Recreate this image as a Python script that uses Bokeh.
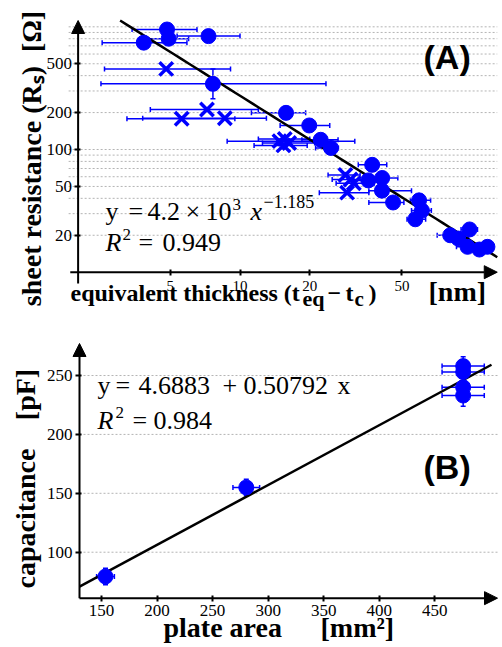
import numpy as np
from bokeh.plotting import figure
from bokeh.layouts import column
from bokeh.models import (ColumnDataSource, Whisker, TeeHead, Arrow, NormalHead, Label,
                          FixedTicker, Range1d)
from bokeh.embed import file_html
from bokeh.resources import INLINE

# ---------------- data: panel A (sheet resistance vs equivalent thickness) -------------
circ_x = [4.84, 4.92, 3.84, 7.31, 7.64, 15.8, 19.9, 22.3, 24.7, 37.2, 41.1, 35.8, 41.0, 45.8,
          59.3, 61.0, 57.1, 80.8, 87.5, 98.0, 96.0, 108.0, 117.0]
circ_y = [951, 800, 743, 840, 343, 199, 157, 120, 103, 75, 58.6, 56, 46.2, 37,
          38.5, 31.8, 27, 20, 18.8, 22.3, 16.1, 15.3, 16.1]
circ_xlo = [3.42, 3.8, 2.54, 5.35, 2.51, 11.2, 14.9, 18.5, 21.2, 32.4, 36, 31, 36, 36,
            54.4, 55, 52.6, 71, 78, 90, 86, 98, 106]
circ_xhi = [6.52, 6.0, 5.9, 10.0, 23.5, 19.2, 24.4, 26.5, 26.6, 43, 48, 40, 55, 51,
            66.5, 67, 63.3, 87, 97, 106, 104, 118, 124]
vbar_x = [7.64]
vbar_lo = [259]
vbar_hi = [454]

cross_x = [4.8, 7.2, 5.6, 8.6, 14.8, 15.6, 16.3, 15.4, 28.5, 30.0, 31.0, 29.0]
cross_y = [454, 212, 178, 180, 117, 122, 113, 108, 62, 57, 53, 44.5]
cross_xlo = [2.6, 4.1, 3.25, 3.8, 8.8, 12.0, 12.5, 11.5, 24, 25, 26, 22]
cross_xhi = [9.1, 12.0, 9.5, 13.0, 31.3, 20, 21, 19.5, 33, 36, 38, 36]

fitA_a, fitA_b = 4.2e3, -1.185
A_xticks = [5, 10, 20, 50]
A_yticks = [20, 50, 100, 200, 500]
A_grid = [20, 30, 40, 50, 60, 70, 80, 90, 100, 200, 300, 400, 500, 600, 700, 800, 900, 1000]

# ---------------- data: panel B (capacitance vs plate area) ----------------
area = [153.6, 280.3, 475.5, 475.5, 475.5, 475.5]
cap = [79.4, 155.0, 258.0, 253.0, 240.0, 233.0]
area_err = [8, 12, 19, 19, 19, 19]
cap_err = [7, 7, 8, 8, 9, 9]
fitB_a, fitB_b = 4.6883, 0.50792
B_xticks = [150, 200, 250, 300, 350, 400, 450]
B_yticks = [100, 150, 200, 250]

BLUE = "#0000ff"
GRID = "#b4b4b4"
SERIF = "Liberation Serif"
SANS = "Liberation Sans"

W = 502
HA = 314
HB = 333
K = 0.38   # empirical baseline correction (fraction of font size)


def txt(p, H, s, x, y, size, style="normal", font=SERIF, angle=0, align="left"):
    # x, y: pixel position of the text baseline, from the top-left corner of this figure
    if angle == 0:
        y = y - K * size
    else:
        x = x - K * size
    p.add_layout(Label(x=x, y=H - y, x_units="screen", y_units="screen", text=s,
                       text_font=font, text_font_size=f"{size}px", text_font_style=style,
                       text_color="black", angle=angle, text_align=align,
                       text_baseline="alphabetic"))


def base_fig(H, xr, yr, xtype, ytype):
    p = figure(width=W, height=H, x_range=xr, y_range=yr, x_axis_type=xtype, y_axis_type=ytype,
               output_backend="svg", toolbar_location=None, min_border=0)
    p.outline_line_color = None
    p.grid.grid_line_color = None
    for ax in (p.xaxis[0], p.yaxis[0]):
        ax.axis_line_color = None
        ax.major_tick_line_width = 2
        ax.major_tick_line_color = "black"
        ax.minor_tick_line_color = None
        ax.major_label_text_font = SERIF
        ax.major_label_text_color = "black"
    return p


def arrow(p, xs, ys, xe, ye):
    p.add_layout(Arrow(end=NormalHead(size=13, fill_color="black", line_color="black"),
                       x_start=xs, y_start=ys, x_end=xe, y_end=ye,
                       line_width=2, line_color="black"))


def whisker(p, src, base, lo, hi, dim):
    p.add_layout(Whisker(source=src, base=base, lower=lo, upper=hi, dimension=dim,
                         line_color=BLUE, line_width=1.5,
                         lower_head=TeeHead(size=5, line_color=BLUE, line_width=1.5),
                         upper_head=TeeHead(size=5, line_color=BLUE, line_width=1.5)))


# ---------------- Panel A ----------------
A_x0, A_x1 = 2.0, 129.0        # axis origin / arrow tip on x
A_y0, A_y1 = 10.0, 1126.0      # axis origin / arrow tip on y
pA = base_fig(HA, Range1d(0.9246, 135.9), Range1d(4.52, 1639.0), "log", "log")
pA.xaxis.fixed_location = A_y0
pA.yaxis.fixed_location = A_x0
pA.xaxis.ticker = FixedTicker(ticks=A_xticks)
pA.yaxis.ticker = FixedTicker(ticks=A_yticks)
pA.xaxis.major_label_text_font_size = "15px"
pA.yaxis.major_label_text_font_size = "17px"
pA.xaxis.major_tick_in = 3
pA.xaxis.major_tick_out = 3
pA.xaxis.major_label_standoff = 6
pA.yaxis.major_tick_in = 2
pA.yaxis.major_tick_out = 4
pA.yaxis.major_label_standoff = 2

pA.segment(x0=[1.82] * len(A_grid), y0=A_grid, x1=[A_x1] * len(A_grid), y1=A_grid,
           line_color=GRID, line_dash="2 2", line_width=1)
arrow(pA, 1.85, A_y0, A_x1, A_y0)
arrow(pA, A_x0, 8.1, A_x0, A_y1)

x_start = (fitA_a / A_y1) ** (1 / -fitA_b)
fx = np.geomspace(x_start, A_x1, 50)
pA.line(fx, fitA_a * fx ** fitA_b, line_color="black", line_width=2.5)

srcC = ColumnDataSource(dict(x=circ_x, y=circ_y, lo=circ_xlo, hi=circ_xhi))
srcX = ColumnDataSource(dict(x=cross_x, y=cross_y, lo=cross_xlo, hi=cross_xhi))
srcV = ColumnDataSource(dict(x=vbar_x, lo=vbar_lo, hi=vbar_hi))
whisker(pA, srcC, "y", "lo", "hi", "width")
whisker(pA, srcX, "y", "lo", "hi", "width")
whisker(pA, srcV, "x", "lo", "hi", "height")
pA.scatter("x", "y", source=srcC, marker="circle", size=15, fill_color=BLUE, line_color=BLUE)
pA.scatter("x", "y", source=srcX, marker="x", size=19, line_color=BLUE, line_width=3.5)

# texts A
txt(pA, HA, "(A)", 423, 69, 34, "bold", SANS)
txt(pA, HA, "y", 105, 221, 26)
txt(pA, HA, "=", 128, 221, 26)
txt(pA, HA, "4.2", 147, 221, 26)
txt(pA, HA, "\u00d7", 185, 221, 26)
txt(pA, HA, "10", 205, 221, 26)
txt(pA, HA, "3", 232, 210, 17)
txt(pA, HA, "x", 250, 221, 26, "italic")
txt(pA, HA, "\u22121.185", 263, 208, 18)
txt(pA, HA, "R", 105, 252, 26, "italic")
txt(pA, HA, "2", 122, 240, 17)
txt(pA, HA, "=", 138, 252, 26)
txt(pA, HA, "0.949", 162, 252, 26)
txt(pA, HA, "sheet resistance (R\u209b)\u00a0\u00a0[\u03a9]", 42, 158, 28, "bold",
    angle=np.pi / 2, align="center")
txt(pA, HA, "equivalent thickness (t", 70, 302, 24, "bold")
txt(pA, HA, "eq", 302, 306, 22, "bold")
txt(pA, HA, "\u2212", 327, 302, 24, "bold")
txt(pA, HA, "t", 345, 302, 24, "bold")
txt(pA, HA, "c", 354, 306, 21, "bold")
txt(pA, HA, ")", 368, 302, 24, "bold")
txt(pA, HA, "[nm]", 428, 302, 28, "bold")

# ---------------- Panel B ----------------
B_x0, B_x1 = 130.2, 506.4
B_y0, B_y1 = 61.0, 277.2
pB = base_fig(HB, Range1d(59.1, 510.9), Range1d(19.1, 301.8), "linear", "linear")
pB.xaxis.fixed_location = B_y0
pB.yaxis.fixed_location = B_x0
pB.xaxis.ticker = FixedTicker(ticks=B_xticks)
pB.yaxis.ticker = FixedTicker(ticks=B_yticks)
pB.xaxis.major_label_text_font_size = "17px"
pB.yaxis.major_label_text_font_size = "17px"
pB.xaxis.major_tick_in = 3
pB.xaxis.major_tick_out = 3
pB.xaxis.major_label_standoff = 4
pB.yaxis.major_tick_in = 2
pB.yaxis.major_tick_out = 4
pB.yaxis.major_label_standoff = 3

pB.segment(x0=[B_x0] * len(B_yticks), y0=B_yticks, x1=[B_x1] * len(B_yticks), y1=B_yticks,
           line_color=GRID, line_dash="2 2", line_width=1)
arrow(pB, B_x0, B_y0, B_x1, B_y0)
arrow(pB, B_x0, B_y0, B_x0, B_y1)

bx = np.array([B_x0, 501.0])
pB.line(bx, fitB_a + fitB_b * bx, line_color="black", line_width=2.5)

srcB = ColumnDataSource(dict(x=area, y=cap,
                             xlo=[a - e for a, e in zip(area, area_err)],
                             xhi=[a + e for a, e in zip(area, area_err)],
                             ylo=[c - e for c, e in zip(cap, cap_err)],
                             yhi=[c + e for c, e in zip(cap, cap_err)]))
whisker(pB, srcB, "y", "xlo", "xhi", "width")
whisker(pB, srcB, "x", "ylo", "yhi", "height")
pB.scatter("x", "y", source=srcB, marker="circle", size=15, fill_color=BLUE, line_color=BLUE)

txt(pB, HB, "(B)", 423, 165, 34, "bold", SANS)
txt(pB, HB, "y", 97, 81, 26)
txt(pB, HB, "=", 115, 81, 26)
txt(pB, HB, "4.6883", 138, 81, 26)
txt(pB, HB, "+", 222, 81, 26)
txt(pB, HB, "0.50792", 243, 81, 26)
txt(pB, HB, "x", 337, 81, 26)
txt(pB, HB, "R", 97, 116, 26, "italic")
txt(pB, HB, "2", 115, 104, 17)
txt(pB, HB, "=", 132, 116, 26)
txt(pB, HB, "0.984", 153, 116, 26)
txt(pB, HB, "capacitance", 36, 204, 28, "bold", angle=np.pi / 2, align="center")
txt(pB, HB, "[pF]", 36, 80, 28, "bold", angle=np.pi / 2, align="center")
txt(pB, HB, "plate area", 163, 324, 28, "bold")
txt(pB, HB, "[mm\u00b2]", 320, 324, 28, "bold")

layout = column(pA, pB, spacing=0)
open("out.html", "w").write(file_html(layout, INLINE))
